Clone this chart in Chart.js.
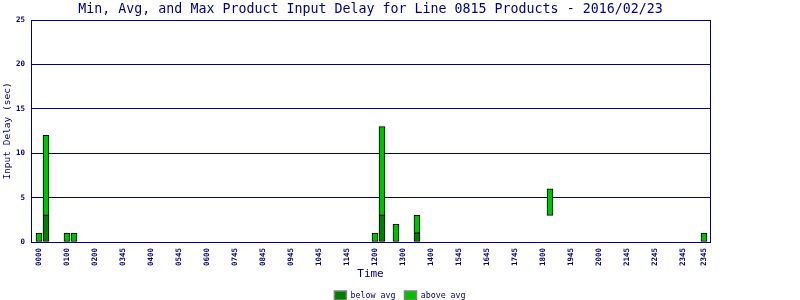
<!DOCTYPE html>
<html>
<head>
<meta charset="utf-8">
<script src="https://cdn.jsdelivr.net/npm/chart.js@4/dist/chart.umd.min.js"></script>
<style>
  html, body { margin: 0; padding: 0; background: #fff; }
</style>
</head>
<body>
<canvas id="chart" width="800" height="300"></canvas>
<script>
// 15 minute slots of the day (0 = 00:00, 95 = 23:45)
const slots = [0, 1, 4, 5, 48, 49, 51, 54, 73, 95]
const minDelay = [0, 0, 0, 0, 0, 0, 0, 0, 3, 0]
const avgDelay = [0, 3, 0, 0, 0, 3, 0, 1, 3, 0]
const maxDelay = [1, 12, 1, 1, 1, 13, 2, 3, 6, 1]

const tickSlots = [0, 4, 8, 12, 16, 20, 24, 28, 32, 36, 40, 44, 48, 52, 56, 60, 64, 68, 72, 76, 80, 84, 88, 92, 95]
const tickLabels = ['0000', '0100', '0200', '0345', '0400', '0545', '0600', '0745', '0845', '0945', '1045', '1145',
  '1200', '1300', '1400', '1545', '1645', '1745', '1800', '1945', '2000', '2145', '2245', '2345', '2345']

const navy = '#000080'
const mono = 'DejaVu Sans Mono'

// min -> avg is the dark part, avg -> max the light part
const below = slots.map((s, i) => minDelay[i] === avgDelay[i] ? null : { x: s, y: [minDelay[i], avgDelay[i]] }).filter(Boolean)
const above = slots.map((s, i) => ({ x: s, y: [avgDelay[i], maxDelay[i]] }))

const ctx = document.getElementById('chart').getContext('2d')

const chart = new Chart(ctx, {
  type: 'bar',
  data: {
    datasets: [
      {
        label: 'below avg',
        data: below,
        backgroundColor: '#008000',
        borderColor: '#000000',
        borderWidth: 1,
        borderSkipped: false,
        barThickness: 6,
        grouped: false,
      },
      {
        label: 'above avg',
        data: above,
        backgroundColor: '#00c000',
        borderColor: '#000000',
        borderWidth: 1,
        borderSkipped: false,
        barThickness: 6,
        grouped: false,
      },
    ],
  },
  options: {
    responsive: false,
    animation: false,
    layout: { padding: 0 },
    plugins: {
      title: {
        display: true,
        fullSize: false,
        text: 'Min, Avg, and Max Product Input Delay for Line 0815 Products - 2016/02/23',
        color: navy,
        font: { family: mono, size: 13.3, weight: 'normal' },
        padding: { top: 1.5, bottom: 2.54 },
      },
      legend: {
        position: 'bottom',
        maxHeight: 18,
        labels: {
          color: navy,
          font: { family: mono, size: 8.3 },
          boxWidth: 12,
          boxHeight: 9,
          padding: 9,
          generateLabels: (c) => Chart.defaults.plugins.legend.labels.generateLabels(c).map((l) => {
            l.strokeStyle = '#808080'
            l.lineWidth = 1.5
            return l
          }),
        },
      },
      tooltip: { enabled: false },
    },
    scales: {
      x: {
        type: 'linear',
        offset: false,
        min: -8 / 7,
        max: 95 + 6 / 7,
        grid: { display: false, drawTicks: false },
        border: { display: true, color: navy, width: 1 },
        afterBuildTicks: (scale) => {
          scale.ticks = tickSlots.map((v) => ({ value: v }))
        },
        ticks: {
          autoSkip: false,
          minRotation: 90,
          maxRotation: 90,
          padding: 6,
          color: navy,
          font: { family: mono, size: 7.5, weight: 'bold' },
          callback: (value, index) => tickLabels[index],
        },
        title: {
          display: true,
          text: 'Time',
          color: navy,
          font: { family: mono, size: 11 },
          padding: { top: 0, bottom: 1 },
        },
        afterFit: (scale) => {
          scale.height = 300 - 242 - 18
        },
      },
      y: {
        min: 0,
        max: 25,
        grid: { color: navy, drawTicks: false },
        border: { display: true, color: navy, width: 1 },
        ticks: {
          stepSize: 5,
          padding: 6,
          color: navy,
          font: { family: mono, size: 7.5, weight: 'bold' },
        },
        title: {
          display: true,
          text: 'Input Delay (sec)',
          color: navy,
          font: { family: mono, size: 9.5 },
          padding: { top: 2, bottom: 0 },
        },
        afterFit: (scale) => {
          scale.width = 31
        },
      },
      yRight: {
        position: 'right',
        grid: { display: false },
        border: { display: true, color: navy, width: 1 },
        ticks: { display: false },
        afterFit: (scale) => {
          scale.width = 90
        },
      },
    },
  },
})
</script>
</body>
</html>
